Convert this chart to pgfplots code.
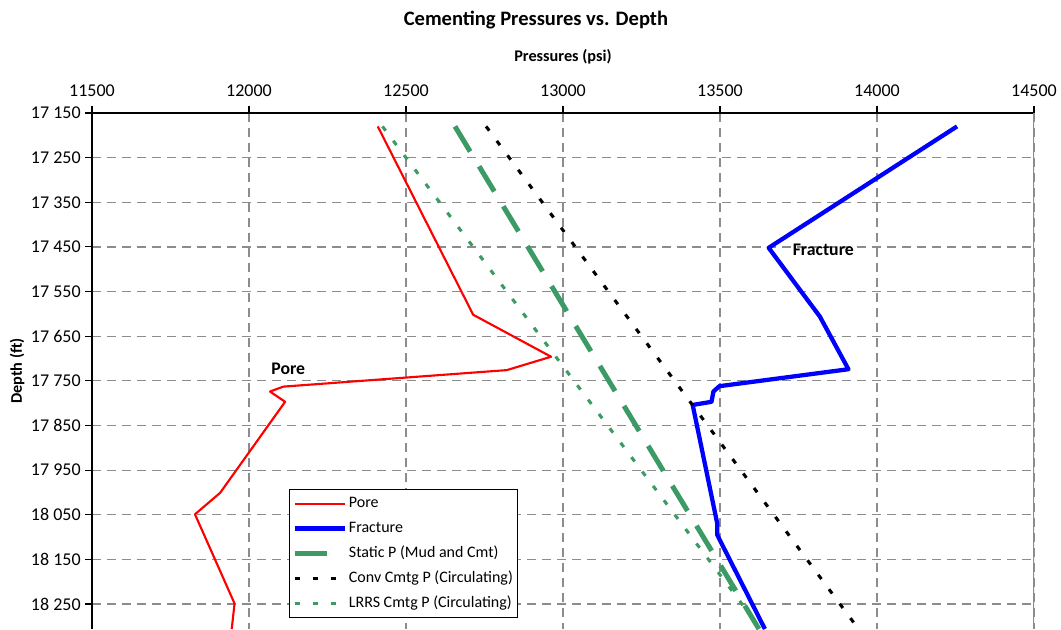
\documentclass[border=0pt]{standalone}
\usepackage{fontspec}
\setmainfont{Carlito}
\usepackage{pgfplots}
\pgfplotsset{compat=1.18}

\definecolor{gridgray}{RGB}{140,140,140}
\definecolor{cmtgreen}{RGB}{60,155,100}

% single solid dash as legend sample for the long-dash series
\pgfplotsset{short legend/.style={legend image code/.code={\draw[##1, solid] (0pt,0pt) -- (24pt,0pt);}}}

\begin{document}
\begin{tikzpicture}
\begin{axis}[
  name=ax,
  scale only axis,
  width=706.5pt, height=387pt,
  xmin=11500, xmax=14500,
  ymin=17150, ymax=18306,
  y dir=reverse,
  scaled ticks=false,
  axis x line=top,
  axis y line=left,
  axis line style={-, black, line width=1.2pt},
  xtick={11500,12000,12500,13000,13500,14000,14500},
  xticklabels={11500,12000,12500,13000,13500,14000,14500},
  ytick={17150,17250,17350,17450,17550,17650,17750,17850,17950,18050,18150,18250},
  yticklabels={17 150,17 250,17 350,17 450,17 550,17 650,17 750,17 850,17 950,18 050,18 150,18 250},
  tick align=outside,
  major tick length=5pt,
  tick style={black, line width=0.8pt},
  grid=major,
  major grid style={gridgray, line width=0.9pt, dash pattern=on 6.75pt off 4.5pt},
  ticklabel style={font=\fontsize{13.5}{15}\selectfont},
  xticklabel style={yshift=4pt},
  legend style={
    at={(axis cs:12127,17992)}, anchor=north west,
    draw=black, line width=1.1pt, fill=white,
    font=\fontsize{12}{14}\selectfont,
    inner xsep=2pt, inner ysep=3.5pt,
    row sep=4.75pt,
    nodes={inner sep=1.5pt, text height=8.5pt, text depth=2.5pt},
  },
  legend cell align=left,
  legend image code/.code={\draw[#1] (0pt,0pt) -- (37.5pt,0pt);},
]

% pore pressure profile
\addplot[red, line width=1.6pt, line join=round] coordinates {
  (12410,17180) (12714,17602) (12962,17696) (12821,17726)
  (12109,17763) (12067,17774) (12115,17797) (11908,18001)
  (11828,18049) (11954,18249) (11945,18306)
};
\addlegendentry{Pore}

% fracture pressure profile
\addplot[blue, line width=3.2pt, line join=round] coordinates {
  (14255,17180) (13655,17452) (13818,17606) (13909,17724)
  (13498,17762) (13479,17774) (13473,17797) (13413,17804)
  (13491,18069) (13491,18095) (13643,18306)
};
\addlegendentry{Fracture}

% static column: mud and cement
\addplot[cmtgreen, line width=3.75pt, dash pattern=on 22pt off 13pt, short legend] coordinates {
  (12656,17180) (13624,18306)
};
\addlegendentry{Static P (Mud and Cmt)}

% conventional cementing, circulating
\addplot[black, line width=2.3pt, dash pattern=on 4pt off 9.5pt] coordinates {
  (12755,17180) (13941,18306)
};
\addlegendentry{Conv Cmtg P (Circulating)}

% LRRS cementing, circulating
\addplot[cmtgreen, line width=2.3pt, dash pattern=on 4pt off 9.5pt] coordinates {
  (12425,17180) (13630,18306)
};
\addlegendentry{LRRS Cmtg P (Circulating)}

\draw[gridgray, line width=1pt] (rel axis cs:1,0) -- (rel axis cs:1,1);

\node[font=\bfseries\fontsize{13.3}{15}\selectfont] at (axis cs:12125,17724) {Pore};
\node[font=\bfseries\fontsize{13.3}{15}\selectfont] at (axis cs:13829,17457) {Fracture};
\end{axis}

\node[font=\bfseries\fontsize{15.4}{18}\selectfont] at ([xshift=333pt,yshift=69.75pt]ax.north west) {Cementing Pressures vs. Depth};
\node[font=\bfseries\fontsize{12.2}{14}\selectfont] at ([yshift=42pt]ax.north) {Pressures (psi)};
\node[font=\bfseries\fontsize{12.2}{14}\selectfont, rotate=90] at ([xshift=-56.25pt]ax.west) {Depth (ft)};

\pgfresetboundingbox
\path[use as bounding box] ([xshift=-69pt]ax.south west) rectangle ([xshift=20.25pt,yshift=84.75pt]ax.north east);
\end{tikzpicture}
\end{document}
